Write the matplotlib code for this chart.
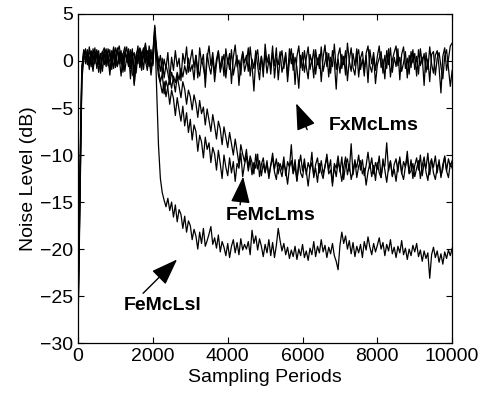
import numpy as np
import matplotlib
matplotlib.use('Agg')
import matplotlib.pyplot as plt

plt.rcParams['font.family'] = ['Liberation Sans', 'DejaVu Sans']

# 采样间隔（每个数值对应 50 个采样周期）
step = 50

# FeMcLsl：快速收敛到 -20 dB 附近
fe_mc_lsl = [
    -27.5, -14.0, -1.5, 0.8, 0.2, 1.2, -0.5, 0.9, 0.1, 1.4,
    -0.8, 0.6, -1.3, 0.4, 1.1, -0.2, 0.7, -1.0, 0.3, 1.5,
    0.0, -0.6, 1.0, -0.3, 0.8, -1.1, 0.5, 1.3, -0.4, 0.9,
    -2.4, 0.2, 1.6, -0.7, 0.6, 1.4, -0.2, 1.1, 0.3, -1.5,
    0.4, 3.6, -3.0, -9.0, -12.5, -14.0, -14.8, -15.5, -14.6, -15.9,
    -15.0, -16.6, -15.3, -17.1, -15.8, -16.3, -17.8, -16.5, -18.2, -17.0,
    -17.5, -19.0, -17.9, -18.6, -20.0, -18.2, -19.4, -17.8, -19.7, -19.1,
    -18.4, -17.6, -19.5, -18.8, -19.9, -18.5, -20.3, -19.2, -19.8, -20.7,
    -19.4, -20.9, -19.7, -19.0, -20.4, -19.3, -20.6, -18.9, -20.1, -19.5,
    -20.0, -19.2, -20.6, -18.0, -19.4, -18.6, -20.1, -18.9, -19.7, -20.8,
    -19.5, -20.4, -19.0, -20.7, -19.3, -20.9, -19.6, -17.8, -19.1, -20.2,
    -19.4, -20.6, -19.8, -21.0, -20.1, -20.8, -19.7, -21.1, -20.0, -20.7,
    -19.5, -20.9, -20.2, -21.2, -19.9, -20.6, -19.2, -20.8, -19.7, -20.4,
    -19.0, -20.3, -19.6, -20.9, -19.8, -20.5, -19.4, -20.7, -21.3, -22.2,
    -19.6, -18.2, -19.4, -18.6, -20.0, -19.1, -20.5, -19.3, -20.8, -19.7,
    -20.4, -19.5, -20.9, -19.2, -20.1, -18.7, -19.8, -20.6, -19.4, -20.3,
    -19.6, -18.8, -20.0, -19.3, -20.7, -19.5, -20.2, -19.0, -20.5, -19.8,
    -20.9, -19.7, -20.4, -19.1, -20.6, -19.9, -21.1, -20.0, -20.7, -19.6,
    -20.3, -19.4, -20.8, -20.1, -21.3, -20.2, -21.0, -20.4, -23.1, -20.6,
    -19.8, -20.9, -20.2, -21.4, -20.5, -21.6, -20.3, -21.0, -20.1, -20.7,
    -19.9,
]

# FeMcLms：收敛到 -11 dB 附近
fe_mc_lms = [
    -26.0, -12.5, -1.0, 1.1, -0.3, 0.9, 0.4, -0.6, 1.3, 0.2,
    0.7, -1.2, 0.5, 1.0, -0.4, 0.8, -0.1, 1.2, -0.9, 0.6,
    1.4, -0.5, 0.3, 1.1, -0.8, 0.6, 1.5, -0.2, 0.9, -1.4,
    -1.8, 0.7, 1.2, 0.1, -1.0, 0.9, 1.7, 0.4, -0.6, 0.8,
    -0.3, 3.2, 0.6, -0.9, -2.2, -1.4, -3.5, -2.1, -2.9, -4.6,
    -3.1, -4.0, -5.8, -3.9, -5.2, -6.4, -4.8, -6.9, -5.5, -7.6,
    -6.2, -8.4, -6.8, -7.5, -9.6, -7.9, -8.6, -10.3, -8.1, -9.4,
    -8.7, -10.8, -9.2, -9.9, -11.6, -9.5, -10.9, -12.5, -10.0, -11.3,
    -12.2, -10.3, -11.9, -10.7, -12.8, -10.9, -11.4, -9.8, -12.3, -11.0,
    -10.1, -11.7, -10.5, -12.1, -10.8, -11.4, -9.9, -12.3, -11.0, -10.3,
    -11.8, -10.6, -12.5, -11.1, -9.8, -11.5, -10.4, -12.0, -10.9, -11.6,
    -10.2, -12.2, -10.7, -11.3, -8.9, -11.9, -10.5, -12.7, -11.2, -10.0,
    -11.7, -10.4, -12.1, -10.8, -11.5, -9.7, -12.4, -11.0, -10.3, -11.9,
    -10.6, -12.0, -11.3, -9.9, -11.6, -10.5, -13.3, -10.9, -11.4, -10.1,
    -11.8, -10.2, -12.6, -11.0, -10.4, -11.7, -8.8, -12.1, -10.7, -11.3,
    -10.0, -11.6, -10.5, -12.2, -11.1, -9.7, -11.4, -10.3, -12.0, -10.8,
    -11.5, -10.1, -12.4, -10.9, -11.2, -8.7, -11.7, -10.6, -12.3, -11.0,
    -10.4, -11.8, -10.2, -12.0, -10.7, -11.3, -9.6, -11.9, -10.5, -12.5,
    -11.1, -10.3, -11.6, -10.0, -12.2, -10.8, -11.4, -9.8, -12.1, -10.6,
    -11.3, -10.1, -11.9, -10.5, -12.4, -11.0, -10.2, -11.7, -10.4, -11.2,
    -10.6,
]

# 第二条 FeMcLms 曲线：收敛较慢
fe_mc_lms_slow = [
    -25.0, -11.0, -0.5, 0.6, 1.3, -0.2, 0.8, 1.0, -0.7, 0.5,
    1.2, 0.1, -0.6, 0.9, 1.4, -0.3, 0.4, -1.5, 0.7, 1.1,
    -0.2, 0.9, 1.6, 0.2, -0.9, 1.0, 0.3, -0.6, 1.2, 0.6,
    -2.6, -0.4, 0.8, 1.3, -0.3, 0.5, 1.9, 0.0, 0.9, -0.8,
    0.7, 2.9, 1.0, 0.1, -1.1, 0.3, -1.8, -0.4, -1.3, -2.5,
    -1.2, -2.0, -3.3, -1.6, -2.7, -3.9, -2.2, -3.0, -4.6, -3.1,
    -3.8, -5.2, -3.6, -4.5, -6.0, -4.2, -5.6, -4.9, -6.8, -5.1,
    -6.3, -7.5, -5.7, -6.9, -8.3, -6.4, -7.2, -8.9, -7.0, -8.1,
    -9.2, -7.6, -8.8, -10.0, -8.3, -9.6, -11.0, -8.9, -9.9, -10.7,
    -9.4, -11.3, -10.1, -10.8, -12.0, -9.9, -11.5, -10.6, -12.2, -10.9,
    -11.9, -10.9, -12.2, -11.1, -10.3, -11.8, -12.6, -10.8, -11.5, -12.3,
    -10.9, -11.6, -13.1, -11.3, -10.6, -12.0, -11.2, -12.8, -10.5, -11.9,
    -12.4, -11.0, -11.7, -13.3, -11.5, -10.8, -12.2, -11.4, -12.9, -10.9,
    -11.8, -12.5, -11.1, -10.3, -12.0, -11.6, -13.0, -11.2, -12.3, -10.7,
    -11.5, -12.8, -11.3, -10.2, -12.1, -11.0, -12.6, -11.7, -10.5, -12.4,
    -11.2, -10.6, -12.0, -11.4, -13.2, -11.8, -10.9, -12.3, -11.1, -12.7,
    -10.8, -11.9, -12.4, -10.4, -11.6, -12.9, -11.3, -10.7, -12.2, -11.5,
    -12.8, -11.0, -10.5, -11.9, -12.6, -11.2, -10.3, -12.0, -11.7, -10.9,
    -12.3, -11.4, -10.6, -12.5, -11.1, -10.2, -11.8, -12.7, -11.0, -10.4,
    -11.9, -12.6, -11.3, -10.8, -12.2, -11.5, -10.1, -11.7, -12.4, -10.9,
    -11.4,
]

# FxMcLms：两条曲线停留在 0 dB 附近
fx_mc_lms_a = [
    -28.0, -15.5, -2.2, 0.3, 1.0, -0.4, 1.5, 0.2, -1.1, 0.8,
    0.3, 1.1, -0.9, 0.2, 0.8, -0.6, 1.3, 0.5, -0.2, 1.0,
    -0.7, 1.2, 0.4, -1.6, 0.7, 1.5, -0.1, 0.9, -0.8, 1.3,
    -1.2, 0.5, -0.3, 1.4, 0.8, -0.9, 1.2, -0.4, 1.6, 0.2,
    1.0, 3.8, 1.3, -0.5, 0.6, -1.4, 0.2, -0.8, 0.9, -1.9,
    0.4, -1.0, 1.1, -0.6, 0.3, -2.1, 0.8, -0.3, 1.5, -1.2,
    0.1, 1.2, -0.7, 0.6, -1.8, 1.4, -0.2, 0.7, -2.8, 0.3,
    1.6, -0.5, 0.9, -1.3, 0.2, 1.1, -0.8, 0.5, -1.6, 1.3,
    -0.3, 0.8, -2.4, 0.4, 1.7, -0.6, 0.1, -1.5, 1.0, -0.2,
    0.6, -1.1, 1.5, -0.4, -3.2, 0.3, 1.2, -0.9, 0.5, -1.7,
    1.8, -0.2, 0.7, -1.4, 0.9, -0.5, 1.4, -2.0, 0.2, 1.1,
    -0.8, 0.6, -1.6, 1.3, -0.3, 0.8, -2.5, 0.5, 1.6, -0.7,
    0.9, -1.2, 0.3, 1.5, -0.9, 0.2, -1.8, 1.2, -0.4, 0.7,
    -2.2, 0.4, 1.7, -0.6, 0.8, -1.3, 1.1, -0.1, -3.0, 0.6,
    1.4, -0.8, 0.5, -1.5, 1.9, 0.0, -1.1, 0.8, -0.5, 1.3,
    -1.7, 0.3, 1.0, -0.9, 0.6, -2.3, 1.2, -0.3, 0.9, -1.0,
    0.5, 1.6, -0.7, 0.2, -1.9, 1.1, -0.4, 1.4, -1.2, 0.4,
    -0.6, 1.3, -2.0, 0.7, 1.5, -0.8, 0.3, -1.4, 1.0, -0.2,
    0.8, -1.6, 1.2, -0.5, 0.4, -2.6, 0.9, -0.9, 1.5, -0.3,
    -1.3, 0.6, 1.1, -0.7, -3.4, 0.5, 1.4, -1.0, 0.2, 1.6,
    1.9,
]

fx_mc_lms_b = [
    -27.0, -14.5, -1.8, 1.2, 0.1, 0.7, -0.9, 1.1, 0.5, -0.3,
    1.0, -0.4, 0.8, -1.1, 0.6, 1.3, -0.5, 0.2, 1.1, -0.8,
    0.5, 1.4, -0.3, 0.7, -1.2, 0.9, 0.2, 1.1, -1.9, 0.4,
    0.9, -1.3, 0.6, 1.0, -0.5, 1.3, 0.1, -1.0, 0.7, 1.2,
    -0.5, 3.0, 0.2, -1.6, -2.4, -3.4, -2.2, -3.8, -2.7, -1.9,
    -2.9, -1.6, -2.3, -1.2, -2.0, -0.8, -1.7, -0.5, -1.4, 0.3,
    -1.1, -0.4, -2.0, 0.6, -0.9, -1.6, 0.2, -0.7, -1.9, 0.8,
    -0.5, -1.4, 0.4, -2.2, -0.3, 1.0, -1.2, -0.2, 0.7, -1.8,
    0.3, -0.9, 1.2, -1.5, -0.4, 0.6, -2.6, -0.1, 0.9, -1.1,
    -0.2, 1.4, -1.6, 0.2, -0.8, 1.1, -0.5, -2.0, 0.5, -0.9,
    0.8, -1.3, 0.1, -0.6, 1.6, -1.8, 0.3, -0.4, 1.0, -1.2,
    -0.3, 0.9, -2.2, 0.0, 1.3, -1.0, 0.4, -0.7, -2.9, 0.6,
    -1.0, 1.1, -0.6, -1.9, 0.7, -0.2, 1.2, -1.4, 0.3, -0.8,
    1.5, -1.1, -0.1, 0.9, -1.7, 0.4, -0.6, 1.8, -0.9, 0.2,
    -1.3, 0.7, -0.4, 1.1, -2.1, 0.1, 1.4, -0.7, -1.5, 0.5,
    1.2, -0.9, 0.2, -1.6, 0.8, 1.6, -0.5, -1.2, 0.4, -2.4,
    -0.4, 0.3, 1.0, -1.3, 0.6, -0.8, 1.3, -1.7, 0.1, 0.9,
    1.6, -0.5, 0.4, -1.1, -0.2, 1.0, -1.8, 0.6, -0.7, 1.2,
    -0.9, 0.5, -1.4, 1.3, -0.3, 0.8, -1.2, 0.2, -2.2, 0.7,
    1.0, -1.5, 0.3, 0.9, -0.6, -1.9, 0.5, 1.2, -0.8, -2.7,
    -1.0,
]

curves = [fe_mc_lsl, fe_mc_lms, fe_mc_lms_slow, fx_mc_lms_a, fx_mc_lms_b]

x_ticks = [0, 2000, 4000, 6000, 8000, 10000]
y_ticks = [-30, -25, -20, -15, -10, -5, 0, 5]

# 标注：文字位置、箭头尾部、箭头尖端
labels = ['FxMcLms', 'FeMcLms', 'FeMcLsl']
label_xy = [(7914, -6.9), (5160, -16.4), (2273, -26.0)]
arrow_tail = [(6123, -7.3), (4332, -15.3), (1738, -24.7)]
arrow_tip = [(5829, -4.5), (4412, -12.3), (2647, -21.1)]

fig = plt.figure(figsize=(4.79, 3.99), dpi=100)
ax = fig.add_axes([0.163, 0.140, 0.781, 0.825])

for y in curves:
    x = np.arange(len(y)) * step
    ax.plot(x, y, color='k', lw=0.9)

ax.set_xlim(0, 10000)
ax.set_ylim(-30, 5)
ax.set_xticks(x_ticks)
ax.set_yticks(y_ticks)
ax.tick_params(direction='in', top=True, right=True, labelsize=14, length=4, width=0.8)
for s in ax.spines.values():
    s.set_linewidth(0.9)

ax.set_xlabel('Sampling Periods', fontsize=14, labelpad=3)
ax.set_ylabel('Noise Level (dB)', fontsize=14, labelpad=2)

for text, pos, tail, tip in zip(labels, label_xy, arrow_tail, arrow_tip):
    ax.annotate('', xy=tip, xytext=tail,
                arrowprops=dict(arrowstyle='-|>,head_length=1.1,head_width=0.4',
                                mutation_scale=15, color='k', lw=1.0,
                                shrinkA=0, shrinkB=0))
    ax.text(pos[0], pos[1], text, fontsize=14, fontweight='bold',
            ha='center', va='center')

fig.savefig('out.png', dpi=100)
